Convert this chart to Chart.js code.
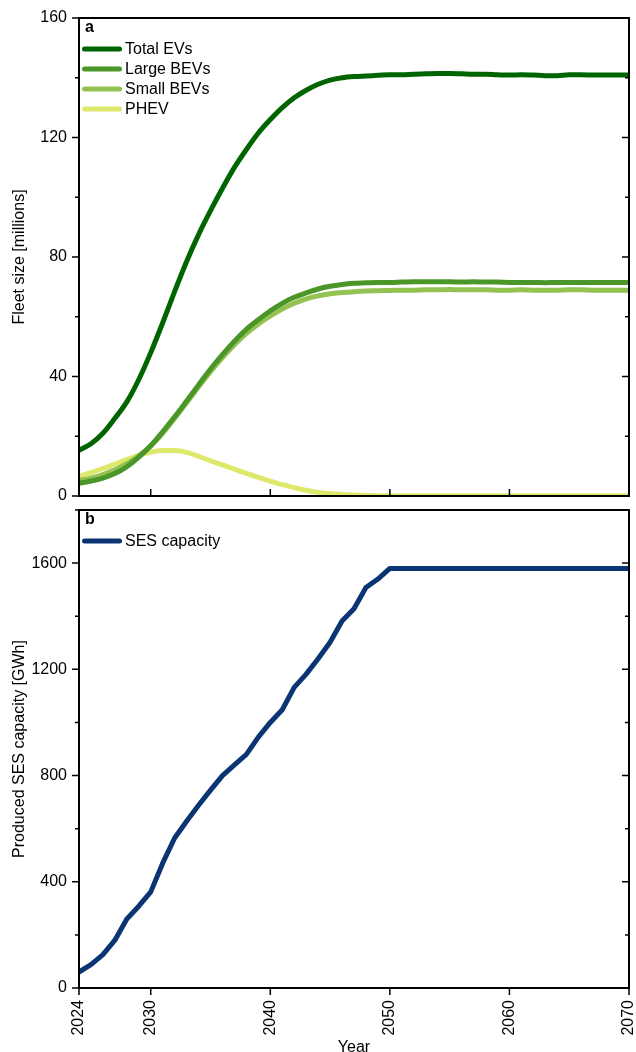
<!DOCTYPE html>
<html lang="en">
<head>
<meta charset="UTF-8">
<title>EV fleet and SES capacity</title>
<script src="https://cdn.jsdelivr.net/npm/chart.js"></script>
<style>
  body { margin: 0; background: #fff; width: 636px; height: 1052px; overflow: hidden; position: relative; }
  canvas { position: absolute; left: 0; }
  #chartA { top: 0; }
  #chartB { top: 480px; }
</style>
</head>
<body>
<canvas id="chartA" width="636" height="505" style="width:636px;height:505px"></canvas>
<canvas id="chartB" width="636" height="577" style="width:636px;height:577px"></canvas>
<script>
// years 2024..2070
const years = [2024, 2025, 2026, 2027, 2028, 2029, 2030, 2031, 2032, 2033,
               2034, 2035, 2036, 2037, 2038, 2039, 2040, 2041, 2042, 2043,
               2044, 2045, 2046, 2047, 2048, 2049, 2050, 2051, 2052, 2053,
               2054, 2055, 2056, 2057, 2058, 2059, 2060, 2061, 2062, 2063,
               2064, 2065, 2066, 2067, 2068, 2069, 2070];

// panel a, fleet size in millions
const totalEVs = [15.3, 17.5, 21, 26, 31.5, 39, 48, 58, 68.5, 78.5,
                  87.5, 95.5, 103, 110, 116, 121.5, 126, 130, 133.3, 135.8,
                  137.8, 139.2, 140, 140.4, 140.6, 140.8, 141, 141, 141.2, 141.3,
                  141.4, 141.4, 141.3, 141.2, 141.2, 141, 140.9, 141, 140.9, 140.7,
                  140.7, 141, 141, 140.9, 140.9, 140.9, 140.9];
const largeBEVs = [4.3, 5, 6, 7.5, 9.8, 13, 16.8, 21.5, 26.5, 31.8,
                   37.2, 42.5, 47.3, 51.8, 55.8, 59, 62, 64.5, 66.5, 68,
                   69.3, 70.2, 70.8, 71.2, 71.4, 71.5, 71.5, 71.6, 71.7, 71.7,
                   71.7, 71.7, 71.6, 71.7, 71.6, 71.6, 71.5, 71.5, 71.5, 71.4,
                   71.5, 71.5, 71.5, 71.5, 71.5, 71.5, 71.5];
const smallBEVs = [5.2, 6, 7.2, 8.8, 10.8, 13.5, 16.8, 21, 26, 31.2,
                   36.5, 41.6, 46.3, 50.6, 54.4, 57.6, 60.3, 62.6, 64.5, 66,
                   67, 67.7, 68.1, 68.4, 68.6, 68.7, 68.8, 68.9, 68.9, 69,
                   69, 69.1, 69, 69, 69, 68.9, 68.9, 69, 68.9, 68.9,
                   68.9, 69, 69, 68.9, 68.9, 68.9, 68.9];
const phev = [6.6, 7.8, 9.2, 10.7, 12.2, 13.6, 14.7, 15.2, 15.2, 14.6,
              13.3, 11.8, 10.4, 9, 7.6, 6.2, 5, 3.8, 2.8, 1.9,
              1.2, 0.8, 0.5, 0.3, 0.2, 0.1, 0.1, 0.1, 0.1, 0.1,
              0.1, 0.1, 0.1, 0.1, 0.1, 0.1, 0.1, 0.1, 0.1, 0.1,
              0.1, 0.1, 0.1, 0.1, 0.1, 0.1, 0.1];

// panel b, produced SES capacity in GWh
const sesCapacity = [60, 88, 126, 180, 260, 308, 362, 470, 565, 628,
                     688, 745, 800, 840, 880, 945, 1000, 1048, 1132, 1182,
                     1240, 1302, 1382, 1428, 1508, 1540, 1580, 1580, 1580, 1580,
                     1580, 1580, 1580, 1580, 1580, 1580, 1580, 1580, 1580, 1580,
                     1580, 1580, 1580, 1580, 1580, 1580, 1580];

const xTicksA = [2030, 2040, 2050, 2060];
const xTicksB = [2024, 2030, 2040, 2050, 2060, 2070];

const FONT = '"Liberation Sans", Arial, sans-serif';
Chart.defaults.font.family = FONT;
Chart.defaults.font.size = 16;
Chart.defaults.color = '#000';

// box, tick marks, panel letter and legend
const framePlugin = {
  id: 'frame',
  afterDraw(chart, args, opts) {
    const { ctx, chartArea: a, scales } = chart;
    const x = scales.x, y = scales.y;
    ctx.save();
    ctx.strokeStyle = '#000';
    ctx.lineWidth = 1.5;
    ctx.beginPath();
    for (let v = y.min; v <= y.max; v += opts.minorStep) {
      const py = y.getPixelForValue(v);
      const len = v % opts.majorStep === 0 ? 7 : 4;
      ctx.moveTo(a.left - len, py); ctx.lineTo(a.left, py);
      ctx.moveTo(a.right - len, py); ctx.lineTo(a.right, py);
    }
    opts.xTicks.forEach(v => {
      const px = x.getPixelForValue(v);
      ctx.moveTo(px, a.bottom);
      ctx.lineTo(px, opts.xInward ? a.bottom - 7 : a.bottom + 7);
    });
    ctx.stroke();
    ctx.lineWidth = 2;
    ctx.strokeRect(a.left, a.top, a.right - a.left, a.bottom - a.top);

    ctx.fillStyle = '#000';
    ctx.textBaseline = 'middle';
    ctx.font = 'bold 16px ' + FONT;
    ctx.fillText(opts.letter, a.left + 6, a.top + 10);

    ctx.font = '16px ' + FONT;
    ctx.lineCap = 'round';
    chart.data.datasets.forEach((ds, i) => {
      const ly = a.top + 31 + i * 20;
      ctx.strokeStyle = ds.borderColor;
      ctx.lineWidth = 5;
      ctx.beginPath();
      ctx.moveTo(a.left + 5.5, ly);
      ctx.lineTo(a.left + 40.5, ly);
      ctx.stroke();
      ctx.fillText(ds.label, a.left + 46, ly + 1);
    });
    ctx.restore();
  }
};

function lineSet(label, data, color, smooth) {
  return {
    label, data,
    borderColor: color,
    borderWidth: 5,
    pointRadius: 0,
    tension: smooth ? 0.4 : 0,
    cubicInterpolationMode: smooth ? 'monotone' : 'default',
    borderJoinStyle: 'round',
    fill: false
  };
}

// keep the plot box where it is: no extra room for overhanging tick labels
function fixWidth(s) {
  s.width = 79;
  s.paddingTop = 0; s.paddingBottom = 0; s.paddingLeft = 0; s.paddingRight = 0;
}
function fixHeight(s) {
  s.height = 69;
  s.paddingTop = 0; s.paddingBottom = 0; s.paddingLeft = 0; s.paddingRight = 0;
}

window.onload = () => {
  new Chart(document.getElementById('chartA'), {
    type: 'line',
    data: {
      labels: years,
      datasets: [
        lineSet('Total EVs', totalEVs, '#006400', true),
        lineSet('Large BEVs', largeBEVs, '#4a9629', true),
        lineSet('Small BEVs', smallBEVs, '#93c152', true),
        lineSet('PHEV', phev, '#dee86b', true)
      ]
    },
    options: {
      responsive: false,
      animation: false,
      layout: { padding: { top: 18, right: 7, bottom: 9, left: 0 } },
      plugins: {
        legend: { display: false },
        tooltip: { enabled: false },
        frame: { letter: 'a', minorStep: 20, majorStep: 40, xTicks: xTicksA, xInward: true }
      },
      scales: {
        x: { type: 'linear', display: false, min: 2024, max: 2070 },
        y: {
          min: 0, max: 160,
          ticks: { stepSize: 40, padding: 12 },
          grid: { display: false, drawTicks: false },
          border: { display: false },
          title: { display: true, text: 'Fleet size [millions]', padding: { top: 10, bottom: 0 } },
          afterFit: fixWidth
        }
      }
    },
    plugins: [framePlugin]
  });

  new Chart(document.getElementById('chartB'), {
    type: 'line',
    data: {
      labels: years,
      datasets: [lineSet('SES capacity', sesCapacity, '#0b3473', false)]
    },
    options: {
      responsive: false,
      animation: false,
      layout: { padding: { top: 30, right: 7, bottom: 0, left: 0 } },
      plugins: {
        legend: { display: false },
        tooltip: { enabled: false },
        frame: { letter: 'b', minorStep: 200, majorStep: 400, xTicks: xTicksB, xInward: false }
      },
      scales: {
        x: {
          type: 'linear', min: 2024, max: 2070,
          afterBuildTicks(s) { s.ticks = xTicksB.map(v => ({ value: v })); },
          ticks: { autoSkip: false, minRotation: 90, maxRotation: 90, padding: 12, callback: v => String(v) },
          grid: { display: false, drawTicks: false },
          border: { display: false },
          title: { display: true, text: 'Year', padding: { top: 0, bottom: 0 } },
          afterFit: fixHeight
        },
        y: {
          min: 0, max: 1800,
          ticks: { stepSize: 400, includeBounds: false, padding: 12,
                   callback: v => (v % 400 === 0 && v <= 1600) ? String(v) : '' },
          grid: { display: false, drawTicks: false },
          border: { display: false },
          title: { display: true, text: 'Produced SES capacity [GWh]', padding: { top: 10, bottom: 0 } },
          afterFit: fixWidth
        }
      }
    },
    plugins: [framePlugin]
  });
};
</script>
</body>
</html>
